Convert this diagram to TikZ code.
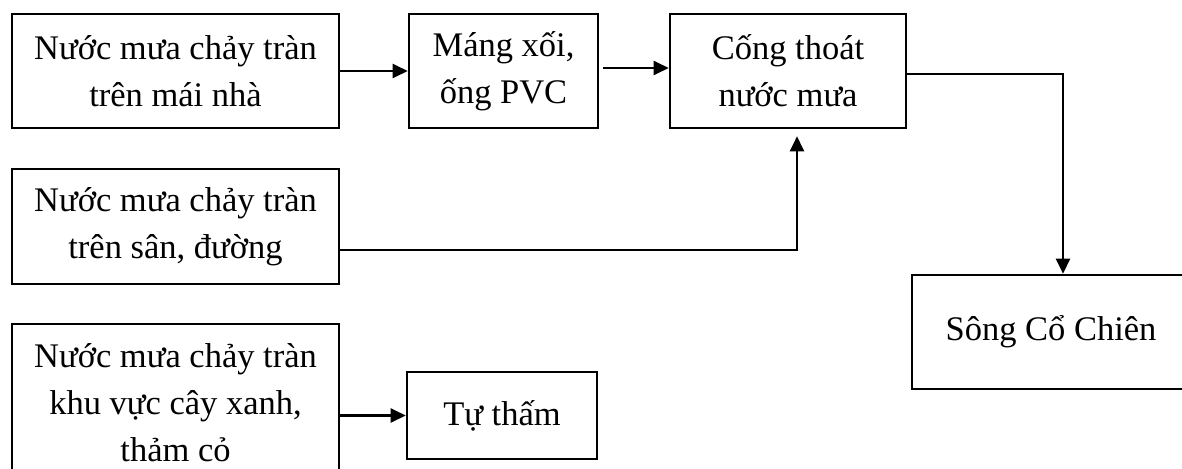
\documentclass[tikz,border=0pt]{standalone}
\usepackage{fontspec}
\setmainfont{Liberation Serif}
\usetikzlibrary{arrows.meta,calc}
\begin{document}
\begin{tikzpicture}[x=1pt,y=-1pt,
  box/.style={draw,line width=2.6pt,rectangle,inner sep=0pt,align=center,
    font=\fontsize{34.5}{47}\selectfont},
  conn/.style={line width=2.3pt,-{Triangle[length=15pt,width=14pt]}}]
\useasboundingbox (0,0) rectangle (1182,468);
\clip (0,0) rectangle (1182,468);
\node[box,minimum width=327pt,minimum height=114pt] (b1) at (175.5,71) {Nước mưa chảy tràn\\trên mái nhà};
\node[box,minimum width=189pt,minimum height=114pt] (b2) at (503.5,71) {Máng xối,\\ống PVC};
\node[box,minimum width=236pt,minimum height=114pt] (b3) at (788,71) {Cống thoát\\nước mưa};
\node[box,minimum width=327pt,minimum height=115pt] (b4) at (175.5,226.5) {Nước mưa chảy tràn\\trên sân, đường};
\node[box,minimum width=278pt,minimum height=114pt] (song) at (1051,332) {Sông Cổ Chiên};
\node[box,minimum width=327pt,minimum height=158pt] (b6) at (175.5,403) {Nước mưa chảy tràn\\khu vực cây xanh,\\thảm cỏ};
\node[box,minimum width=190pt,minimum height=87pt] (t) at (502,415.5) {Tự thấm};
\draw[conn] (b1) -- (b2);
\draw[conn] ([xshift=4pt,yshift=3pt]b2.east) -- ([yshift=3pt]b3.west);
\draw[conn] ([yshift=-3pt]b3.east) -| ([xshift=12pt]song.north);
\draw[conn] ([yshift=-23.5pt]b4.east) -| ([xshift=9pt,yshift=-7pt]b3.south);
\draw[conn] (t.west -| b6.east) -- (t.west);
\end{tikzpicture}
\end{document}
